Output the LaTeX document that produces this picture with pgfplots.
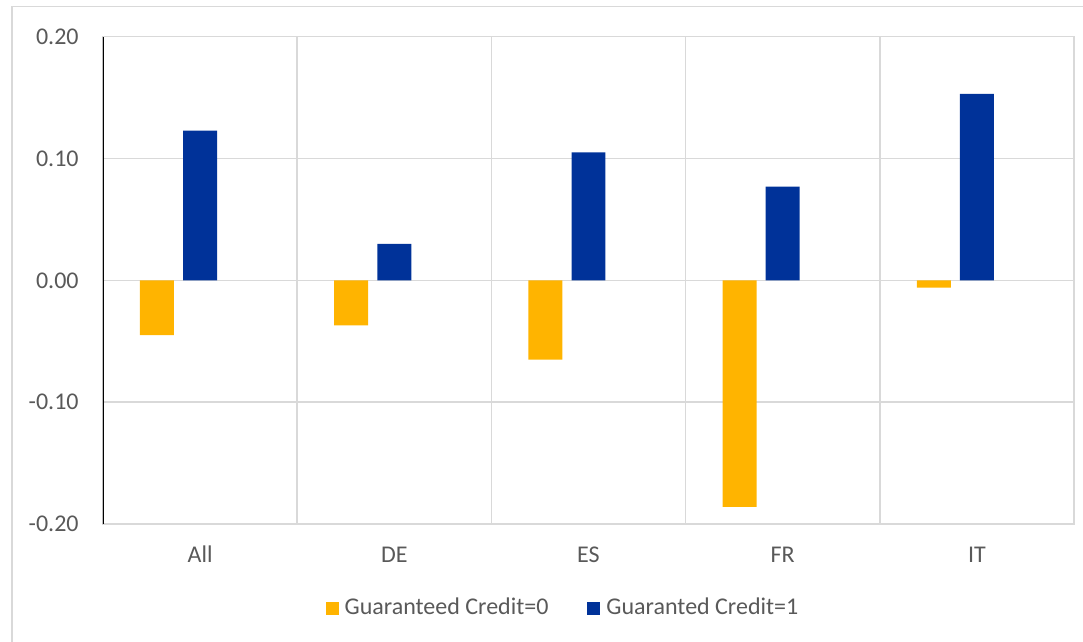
\documentclass[border=0pt]{standalone}
\usepackage{pgfplots}
\pgfplotsset{compat=1.18}
\usepackage{fontspec}
\setmainfont{Carlito}

\definecolor{ecbyellow}{HTML}{FFB400}
\definecolor{ecbblue}{HTML}{003299}
\definecolor{gridgray}{HTML}{D9D9D9}
\definecolor{labelgray}{HTML}{595959}

\begin{document}
\begin{tikzpicture}
\useasboundingbox (0,0) rectangle (541.5pt,321pt);
% chart frame (left and top edges)
\draw[gridgray, line width=0.8pt] (6pt,0pt) -- (6pt,317.75pt) -- (541.5pt,317.75pt);

\begin{axis}[
  at={(51.5pt,59pt)}, anchor=south west,
  scale only axis,
  width=485.5pt, height=243.65pt,
  xmin=-0.5, xmax=4.5,
  ymin=-0.2, ymax=0.2,
  xtick={0,1,2,3,4},
  xticklabels={All,DE,ES,FR,IT},
  minor xtick={0.5,1.5,2.5,3.5},
  xminorgrids=true,
  ytick={-0.2,-0.1,0,0.1,0.2},
  yticklabels={-0.20,-0.10,0.00,0.10,0.20},
  ymajorgrids=true,
  major tick length=0pt, minor tick length=0pt,
  grid style={gridgray, line width=0.75pt},
  minor grid style={gridgray, line width=0.75pt},
  axis line style={gridgray, line width=0.75pt},
  tick label style={font=\fontsize{12}{14}\selectfont, text=labelgray, inner sep=0pt},
  yticklabel style={anchor=east, xshift=-12pt},
  xticklabel style={anchor=base, yshift=-19.5pt},
  legend columns=2,
  legend style={
    at={(axis description cs:0.4727,-0.1724)}, anchor=center,
    draw=none, fill=none, inner sep=0pt,
    font=\fontsize{12}{14}\selectfont, text=labelgray,
    nodes={inner sep=0pt, anchor=west},
    /tikz/every odd column/.append style={column sep=3pt},
    /tikz/every even column/.append style={column sep=19.5pt},
  },
]
\addplot[ybar, bar width=0.175, bar shift=-0.222, fill=ecbyellow, draw=none,
  legend image code/.code={\fill[ecbyellow] (0pt,-3.25pt) rectangle (6.5pt,3.25pt);}]
  coordinates {(0,-0.045) (1,-0.037) (2,-0.065) (3,-0.186) (4,-0.006)};
\addlegendentry{Guaranteed Credit=0}
\addplot[ybar, bar width=0.175, bar shift=0, fill=ecbblue, draw=none,
  legend image code/.code={\fill[ecbblue] (0pt,-3.25pt) rectangle (6.5pt,3.25pt);}]
  coordinates {(0,0.123) (1,0.030) (2,0.105) (3,0.077) (4,0.153)};
\addlegendentry{Guaranted Credit=1}
% dark value axis on the left
\draw[black, line width=0.6pt] (axis cs:-0.5,-0.2) -- (axis cs:-0.5,0.2);
\end{axis}
\end{tikzpicture}
\end{document}
